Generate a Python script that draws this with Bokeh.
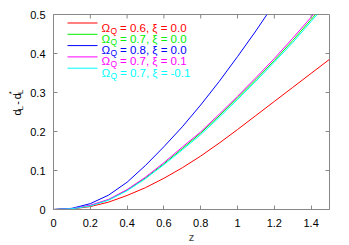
import math
from bokeh.plotting import figure
from bokeh.layouts import row
from bokeh.models import Label, FixedTicker, Range1d
from bokeh.core.properties import value
from bokeh.embed import file_html
from bokeh.resources import INLINE

# ---- data ----
z_red = [0, 0.1, 0.2, 0.3, 0.4, 0.5, 0.6, 0.7, 0.8, 0.9, 1.0, 1.1, 1.2, 1.3, 1.4, 1.5]
d_red = [0, 0.0015, 0.0075, 0.019, 0.036, 0.056, 0.08, 0.107, 0.137, 0.17, 0.205, 0.241, 0.277, 0.313, 0.349, 0.385]

z_green = [0, 0.1, 0.2, 0.3, 0.4, 0.5, 0.6, 0.7, 0.8, 0.9, 1.0, 1.1, 1.2, 1.3, 1.4, 1.424]
d_green = [0, 0.002, 0.010, 0.025, 0.05, 0.081, 0.117, 0.156, 0.196, 0.24, 0.286, 0.333, 0.382, 0.433, 0.487, 0.5]

z_blue = [0, 0.1, 0.2, 0.3, 0.4, 0.5, 0.6, 0.7, 0.8, 0.9, 1.0, 1.1, 1.16]
d_blue = [0, 0.003, 0.015, 0.037, 0.07, 0.113, 0.161, 0.212, 0.268, 0.328, 0.392, 0.458, 0.5]

z_magenta = [0, 0.1, 0.2, 0.3, 0.4, 0.5, 0.6, 0.7, 0.8, 0.9, 1.0, 1.1, 1.2, 1.3, 1.4, 1.413]
d_magenta = [0, 0.002, 0.011, 0.026, 0.051, 0.083, 0.12, 0.16, 0.199, 0.244, 0.29, 0.338, 0.387, 0.439, 0.493, 0.5]

z_cyan = [0, 0.1, 0.2, 0.3, 0.4, 0.5, 0.6, 0.7, 0.8, 0.9, 1.0, 1.1, 1.2, 1.3, 1.4, 1.433]
d_cyan = [0, 0.002, 0.009, 0.024, 0.048, 0.079, 0.115, 0.153, 0.192, 0.236, 0.282, 0.329, 0.378, 0.428, 0.482, 0.5]

omega_labels = ["0.6", "0.7", "0.8", "0.7", "0.7"]
xi_labels = ["0.0", "0.0", "0.0", "0.1", "-0.1"]
colors = ["#ff0000", "#00ee00", "#0000ff", "#ff00ff", "#00ffff"]

x_ticks = [0, 0.2, 0.4, 0.6, 0.8, 1.0, 1.2, 1.4]
y_ticks = [0, 0.1, 0.2, 0.3, 0.4, 0.5]

FONT = "Liberation Sans"
GRAY = "#888888"
W, H = 349, 245
LW = 24                      # width of the strip holding the rotated y label
X0, X1, Y0, Y1 = 0.0, 1.5, 0.0, 0.5
PX_X = (329 - 53) / (X1 - X0)   # layout helpers (pixels per data unit)
PX_Y = (209 - 14) / (Y1 - Y0)

# ---- left strip with the rotated y-axis label ----
lab = figure(width=LW, height=H, output_backend="svg", toolbar_location=None,
             x_range=Range1d(0, LW), y_range=Range1d(0, H),
             x_axis_location=None, y_axis_location=None,
             min_border_left=0, min_border_right=0, min_border_top=0, min_border_bottom=0)
lab.grid.visible = False
lab.outline_line_color = None
lab.background_fill_color = "white"
lab.border_fill_color = "white"

base_x = 16.5
base_y = H - 127
pieces = [
    ("d", 11, 0, 0),
    ("L", 8, 3, 6.3),
    ("-", 11, 0, 13.6),
    ("d", 11, 0, 20.6),
    ("L", 8, 3, 26.9),
    ("*", 8, -5.5, 26.9),
]
for txt, fs, dx, dy in pieces:
    lab.text(x=[base_x + dx], y=[base_y + dy], text=[txt], angle=math.pi / 2,
             text_font=value(FONT), text_font_size=f"{fs}px", text_color="black",
             text_baseline="alphabetic", text_align="left")

# ---- main plot ----
p = figure(width=W - LW, height=H, output_backend="svg", toolbar_location=None,
           x_range=Range1d(X0, X1), y_range=Range1d(Y0, Y1),
           min_border_left=53 - LW, min_border_right=20, min_border_top=14, min_border_bottom=36)
p.grid.visible = False
p.outline_line_color = GRAY
p.background_fill_color = "white"
p.border_fill_color = "white"

series = [(z_red, d_red), (z_green, d_green), (z_blue, d_blue), (z_magenta, d_magenta), (z_cyan, d_cyan)]
for (zz, dd), c in zip(series, colors):
    p.line(zz, dd, line_color=c, line_width=1)

def style_axis(ax, ticks):
    ax.ticker = FixedTicker(ticks=ticks)
    ax.axis_line_color = GRAY
    ax.major_tick_line_color = GRAY
    ax.major_tick_in = 4
    ax.major_tick_out = 0
    ax.minor_tick_line_color = None
    ax.major_label_text_font = FONT
    ax.major_label_text_font_size = "11px"
    ax.major_label_text_color = "black"

xa = p.xaxis[0]
style_axis(xa, x_ticks)
xa.major_label_overrides = {0: "0", 1: "1"}
xa.major_label_standoff = 9
xa.axis_label = "z"
xa.axis_label_text_font = FONT
xa.axis_label_text_font_size = "11px"
xa.axis_label_text_font_style = "normal"
xa.axis_label_standoff = 1

ya = p.yaxis[0]
style_axis(ya, y_ticks)
ya.major_label_overrides = {0: "0"}
ya.major_label_standoff = 8

# mirrored ticks on top and right border (gnuplot style)
tick_len = 4
p.segment(x0=x_ticks, y0=[Y1] * len(x_ticks), x1=x_ticks, y1=[Y1 - tick_len / PX_Y] * len(x_ticks),
          line_color=GRAY, line_width=1)
p.segment(x0=[X1] * len(y_ticks), y0=y_ticks, x1=[X1 - tick_len / PX_X] * len(y_ticks), y1=y_ticks,
          line_color=GRAY, line_width=1)

# ---- legend ----
leg_x0 = (67 - 53) / PX_X
leg_x1 = (97 - 53) / PX_X
leg_tx = (101 - 53) / PX_X
row0_px = 22.5
row_step_px = 11.3
for i, c in enumerate(colors):
    yl = Y1 - (row0_px - 14 + i * row_step_px) / PX_Y
    p.segment(x0=[leg_x0], y0=[yl], x1=[leg_x1], y1=[yl], line_color=c, line_width=1)
    p.add_layout(Label(x=leg_tx, y=yl, text="\u03a9", y_offset=-4.5, text_font=FONT,
                       text_font_size="11.5px", text_color=c, text_baseline="alphabetic"))
    p.add_layout(Label(x=leg_tx, y=yl, text="Q", x_offset=9.0, y_offset=-7.5, text_font=FONT,
                       text_font_size="8.5px", text_color=c, text_baseline="alphabetic"))
    p.add_layout(Label(x=leg_tx, y=yl, text=f"= {omega_labels[i]}, \u03be = {xi_labels[i]}",
                       x_offset=18.5, y_offset=-4.5, text_font=FONT,
                       text_font_size="11.5px", text_color=c, text_baseline="alphabetic"))

layout = row(lab, p)
open("out.html", "w").write(file_html(layout, INLINE))
